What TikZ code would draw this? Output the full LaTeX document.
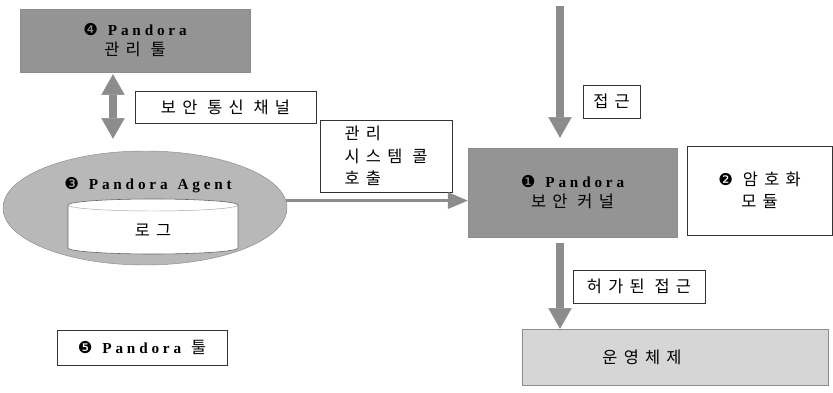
\documentclass[tikz,border=0pt]{standalone}
\usepackage{fontspec}
\setmainfont{Noto Sans CJK KR}[LetterSpace=38]
\newfontfamily\latfont{Liberation Serif}[LetterSpace=25]
\newfontfamily\dingfont{DejaVu Sans}
\usetikzlibrary{arrows.meta,shapes.geometric,calc}

\definecolor{boxdark}{gray}{0.58}
\definecolor{ellfill}{gray}{0.72}
\definecolor{osfill}{gray}{0.84}
\definecolor{arrowgray}{gray}{0.55}

\newcommand{\pandora}[1]{{\dingfont #1}\ {\latfont\fontsize{13}{17}\selectfont\bfseries Pandora}}

\tikzset{
  panel/.style={draw=black!45, fill=boxdark, align=center, inner sep=0pt,
    font=\fontsize{14}{17}\selectfont},
  tag/.style={draw=black!80, line width=0.5pt, fill=white, inner sep=0pt},
  agentshape/.style={ellipse, draw=black!45, fill=ellfill, inner sep=0pt,
    minimum width=8.52cm, minimum height=3.42cm},
  logcyl/.style={draw=black!60, fill=white, line width=0.5pt},
  fatarrow/.style={line width=0.24cm, draw=arrowgray,
    >={Triangle[length=0.62cm,width=0.7cm,line width=0.5pt]}},
  thinarrow/.style={line width=0.09cm, draw=arrowgray,
    >={Triangle[length=0.6cm,width=0.5cm,line width=0.5pt]}}
}

\begin{document}
\begin{tikzpicture}[x=0.03cm,y=-0.03cm,
  every node/.style={font=\fontsize{14}{19}\selectfont}]
\useasboundingbox (0,0) rectangle (833,393);

% boxes
\node[panel, minimum width=6.9cm, minimum height=1.89cm] (tool) at (135,40.5) {\pandora{❹}\\관리 툴};
\node[tag, minimum width=5.43cm, minimum height=0.96cm] (chan) at (225.5,107) {보안 통신 채널};
\node[agentshape] (agent) at (145,208) {};
\node (agenttxt) at (148,185) {\pandora{❸}\ {\latfont\fontsize{13}{17}\selectfont\bfseries Agent}};

% log store
\coordinate (logc) at (153,226.5);
\draw[logcyl] ($(logc)+(-85,-21.5)$) arc[start angle=180,end angle=0,x radius=2.55cm,y radius=0.18cm]
  -- ++(0,43) arc[start angle=0,end angle=-180,x radius=2.55cm,y radius=0.18cm] -- cycle;
\draw[black!35] ($(logc)+(-85,-21.5)$) arc[start angle=180,end angle=360,x radius=2.55cm,y radius=0.18cm];
\node (log) at (153,230) {로그};

\node[tag, align=left, minimum width=3.96cm, minimum height=2.16cm] (call) at (386,156) {관리\\시스템 콜\\호출};
\node[panel, minimum width=6.27cm, minimum height=2.67cm] (kernel) at (572.5,192.5) {\pandora{❶}\\보안 커널};
\node[tag, align=center, minimum width=4.35cm, minimum height=2.67cm] (crypto) at (759.5,190.5) {{\dingfont ❷} 암호화\\모듈};
\node[tag, minimum width=1.71cm, minimum height=0.99cm] (access) at (611.5,101.5) {접근};
\node[tag, minimum width=3.96cm, minimum height=0.99cm] (granted) at (639,286.5) {허가된 접근};
\node[panel, fill=osfill, minimum width=9.18cm, minimum height=1.68cm] (os) at (675,357) {운영체제\hspace{1.98cm}};
\node[tag, minimum width=5.1cm, minimum height=1.05cm] (tools) at (142,347.5) {\pandora{❺} 툴};

% connectors
\coordinate (src) at (560,6);
\coordinate (dbl) at (113,0);
\draw[fatarrow,<->,shorten <=0.06cm,shorten >=0.36cm] (tool.south -| dbl) -- (agent.north -| dbl);
\draw[fatarrow,->,shorten >=0.3cm] (src) -- (kernel.north -| src);
\draw[thinarrow,->] (agent.3) -- (agent.3 -| kernel.west);
\draw[fatarrow,->,shorten <=0.18cm] (kernel.south -| src) -- (os.north -| src);
\end{tikzpicture}
\end{document}
